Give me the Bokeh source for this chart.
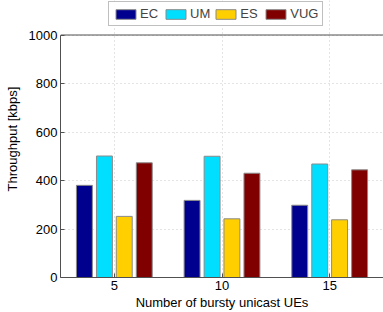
from bokeh.plotting import figure
from bokeh.models import ColumnDataSource, Legend, LegendItem, FixedTicker, Range1d, Span
from bokeh.transform import dodge
from bokeh.embed import file_html
from bokeh.resources import INLINE

groups = [5, 10, 15]
series = ["EC", "UM", "ES", "VUG"]
ec = [380, 318, 298]
um = [501, 500, 468]
es = [252, 242, 238]
vug = [473, 430, 444]
colors = ["#00008F", "#00DFFF", "#FFCF00", "#800000"]
y_ticks = [0, 200, 400, 600, 800, 1000]
y_max = 1000

FONT = "Liberation Sans"
H, TOP_GAP, BOTTOM = 312, 35, 31
frame_h = H - BOTTOM
y_end = y_max * frame_h / (frame_h - TOP_GAP)

src = ColumnDataSource(dict(x=groups, EC=ec, UM=um, ES=es, VUG=vug))

p = figure(width=383, height=H, output_backend="svg", toolbar_location=None,
           x_range=Range1d(2.5, 17.5), y_range=Range1d(0, y_end),
           min_border_left=60, min_border_right=0, min_border_bottom=BOTTOM, min_border_top=0)

offsets = [-1.39, -0.46, 0.46, 1.39]
renderers = []
for s, c, o in zip(series, colors, offsets):
    r = p.vbar(x=dodge("x", o, range=p.x_range), top=s, width=0.74, source=src,
               fill_color=c, line_color="#8a8a8a", line_width=1)
    renderers.append(r)

legend = Legend(items=[LegendItem(label=s, renderers=[r]) for s, r in zip(series, renderers)],
                orientation="horizontal", location=(48, frame_h - 30),
                label_text_font=FONT, label_text_font_size="13px",
                glyph_width=25, glyph_height=12, label_standoff=2, spacing=3,
                padding=4, margin=0, border_line_color="#808080",
                label_height=12)
p.add_layout(legend, "center")

p.add_layout(Span(location=y_max, dimension="width", line_color="#505050", line_width=1))

p.xaxis.ticker = FixedTicker(ticks=groups)
p.yaxis.ticker = FixedTicker(ticks=y_ticks)
p.yaxis.bounds = (0, y_max)
p.xaxis.axis_label = "Number of bursty unicast UEs"
p.yaxis.axis_label = "Throughput [kbps]"
for ax in (p.xaxis, p.yaxis):
    ax.axis_label_text_font = FONT
    ax.axis_label_text_font_size = "13px"
    ax.axis_label_text_font_style = "normal"
    ax.major_label_text_font = FONT
    ax.major_label_text_font_size = "13px"
    ax.major_tick_in = 4
    ax.major_tick_out = 0
    ax.minor_tick_line_color = None
    ax.axis_line_color = "#505050"
    ax.major_tick_line_color = "#505050"
    ax.major_label_text_color = "black"
    ax.axis_label_text_color = "black"
p.xaxis.axis_label_standoff = 2
p.yaxis.axis_label_standoff = 6
p.xaxis.major_label_standoff = 3
p.yaxis.major_label_standoff = 3

p.xgrid.bounds = (0, y_max)
p.xgrid.grid_line_color = "#c8c8c8"
p.ygrid.grid_line_color = "#c8c8c8"
p.xgrid.grid_line_dash = "1 3"
p.ygrid.grid_line_dash = "1 3"
p.outline_line_color = None
p.background_fill_color = "white"
p.border_fill_color = "white"

open("out.html", "w").write(file_html(p, INLINE))
